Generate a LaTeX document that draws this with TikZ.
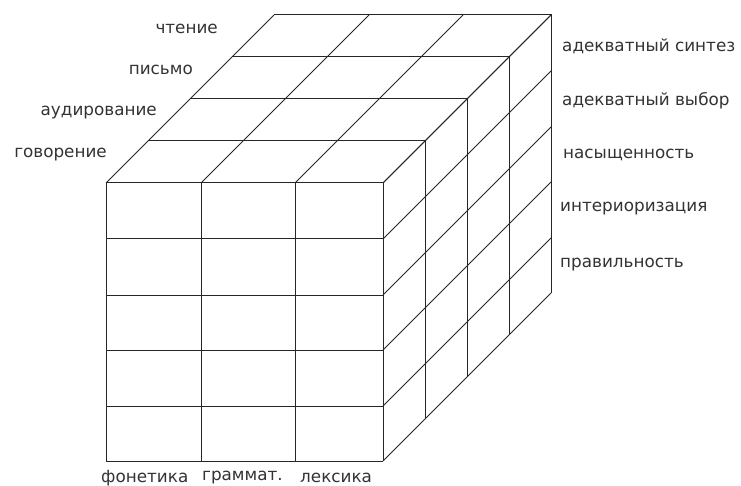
\documentclass[tikz,border=0pt]{standalone}
\usepackage{fontspec}
\setmainfont{DejaVu Sans}
\begin{document}
\begin{tikzpicture}[x=1pt,y=-1pt,
  grid/.style={line width=1pt,draw=black!85},
  lbl/.style={font=\fontsize{16.8}{19}\selectfont,text=black!80,inner sep=0pt}]
\useasboundingbox[fill=white] (0,0) rectangle (741,486);
% front face
\foreach \x in {106,201,295,383} \draw[grid] (\x,183) -- (\x,461);
\foreach \y in {183,239,295,350,406,461} \draw[grid] (106,\y) -- (383,\y);
% top face: receding column lines
\foreach \x in {106,201,295,383} \draw[grid] (\x,183) -- ++(168,-168);
% top face: slab edges and their right verticals
\foreach \k in {1,2,3,4} {
  \draw[grid] ({106+42*\k},{183-42*\k}) -- ({383+42*\k},{183-42*\k}) -- ({383+42*\k},{461-42*\k});
}
% right face: receding row lines
\foreach \y in {183,239,295,350,406,461} \draw[grid] (383,\y) -- ++(168,-168);
% left labels
\node[lbl,anchor=east] (l4) at (218,29) {чтение};
\node[lbl,anchor=east] (l3) at (193,70) {письмо};
\node[lbl,anchor=east] (l2) at (157,113) {аудирование};
\node[lbl,anchor=east] (l1) at (107,155) {говорение};
% right labels
\node[lbl,anchor=west] (r1) at (562,46) {адекватный синтез};
\node[lbl,anchor=west] (r2) at (562,101) {адекватный выбор};
\node[lbl,anchor=west] (r3) at (563,155) {насыщенность};
\node[lbl,anchor=west] (r4) at (560,209) {интериоризация};
\node[lbl,anchor=west] (r5) at (560,265) {правильность};
% bottom labels
\node[lbl,anchor=west] (b1) at (101,478) {фонетика};
\node[lbl,anchor=west] (b2) at (202,478) {граммат.};
\node[lbl,anchor=west] (b3) at (300,478) {лексика};
\end{tikzpicture}
\end{document}
